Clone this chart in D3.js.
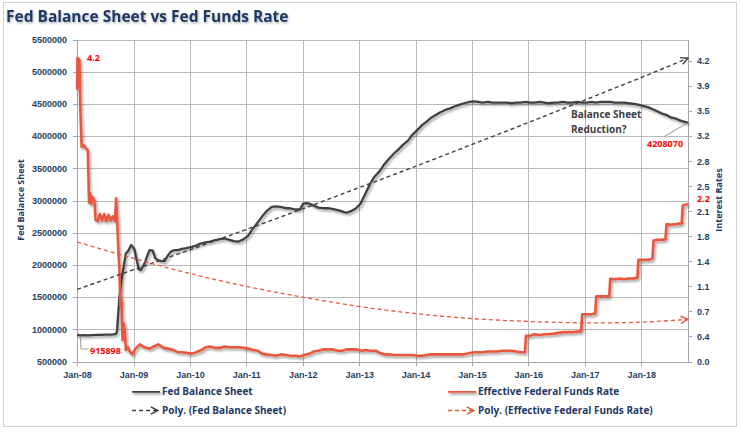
<!DOCTYPE html>
<html lang="en">
<head>
<meta charset="UTF-8">
<script src="https://d3js.org/d3.v7.min.js"></script>
<title>Fed Balance Sheet vs Fed Funds Rate</title>
<style>
  body { margin: 0; background: #fff; }
  svg { font-family: "Open Sans", sans-serif; }
  .grid line { stroke: #b9b9b9; stroke-width: 1px; shape-rendering: crispEdges; }
  .axis path, .axis line { stroke: #a6a6a6; shape-rendering: crispEdges; }
  .axis text { fill: #243f60; font-weight: bold; font-size: 9px; }
  .legend text { fill: #1f3864; font-weight: bold; font-size: 10px; }
</style>
</head>
<body>
<svg id="chart" width="743" height="433"></svg>
<script>
// ---- data ----
var bsSeries = [
  ["2008-01-02", 915898], ["2008-01-16", 905000], ["2008-02-13", 908000], ["2008-03-12", 906000],
  ["2008-04-09", 910000], ["2008-05-07", 912000], ["2008-06-04", 914000], ["2008-07-02", 916000],
  ["2008-07-30", 918000], ["2008-08-27", 922000], ["2008-09-10", 930000], ["2008-09-17", 990000],
  ["2008-09-24", 1250000], ["2008-10-01", 1480000], ["2008-10-15", 1770000], ["2008-10-29", 1960000],
  ["2008-11-12", 2180000], ["2008-11-26", 2210000], ["2008-12-17", 2310000], ["2009-01-07", 2240000],
  ["2009-01-21", 2080000], ["2009-02-04", 1930000], ["2009-02-18", 1920000], ["2009-03-04", 1980000],
  ["2009-03-18", 2050000], ["2009-04-01", 2150000], ["2009-04-15", 2230000], ["2009-05-06", 2220000],
  ["2009-05-20", 2110000], ["2009-06-10", 2070000], ["2009-07-01", 2060000], ["2009-07-22", 2060000],
  ["2009-08-12", 2150000], ["2009-09-02", 2210000], ["2009-09-23", 2230000], ["2009-10-14", 2230000],
  ["2009-11-11", 2250000], ["2009-12-09", 2260000], ["2010-01-13", 2280000], ["2010-02-10", 2300000],
  ["2010-03-10", 2330000], ["2010-04-14", 2350000], ["2010-05-12", 2360000], ["2010-06-09", 2380000],
  ["2010-07-14", 2400000], ["2010-08-11", 2410000], ["2010-09-15", 2390000], ["2010-10-13", 2370000],
  ["2010-11-10", 2360000], ["2010-12-15", 2400000], ["2011-01-12", 2450000], ["2011-02-09", 2550000],
  ["2011-03-16", 2660000], ["2011-04-13", 2750000], ["2011-05-11", 2830000], ["2011-06-15", 2900000],
  ["2011-07-13", 2910000], ["2011-08-10", 2900000], ["2011-09-14", 2880000], ["2011-10-12", 2880000],
  ["2011-11-09", 2860000], ["2011-12-14", 2860000], ["2012-01-04", 2950000], ["2012-01-25", 2960000],
  ["2012-02-15", 2950000], ["2012-03-14", 2920000], ["2012-04-11", 2890000], ["2012-05-16", 2880000],
  ["2012-06-13", 2880000], ["2012-07-11", 2870000], ["2012-08-15", 2850000], ["2012-09-12", 2830000],
  ["2012-10-10", 2810000], ["2012-11-14", 2840000], ["2012-12-12", 2880000], ["2013-01-09", 2950000],
  ["2013-02-13", 3120000], ["2013-03-13", 3260000], ["2013-04-10", 3370000], ["2013-05-15", 3460000],
  ["2013-06-12", 3560000], ["2013-07-10", 3640000], ["2013-08-14", 3730000], ["2013-09-11", 3790000],
  ["2013-10-09", 3860000], ["2013-11-13", 3930000], ["2013-12-11", 4020000], ["2014-01-15", 4100000],
  ["2014-02-12", 4170000], ["2014-03-12", 4220000], ["2014-04-09", 4280000], ["2014-05-14", 4330000],
  ["2014-06-11", 4370000], ["2014-07-16", 4410000], ["2014-08-13", 4430000], ["2014-09-10", 4460000],
  ["2014-10-15", 4490000], ["2014-11-12", 4510000], ["2014-12-17", 4530000], ["2015-01-14", 4540000],
  ["2015-02-11", 4530000], ["2015-03-11", 4520000], ["2015-04-15", 4530000], ["2015-05-13", 4520000],
  ["2015-06-10", 4520000], ["2015-07-15", 4520000], ["2015-08-12", 4520000], ["2015-09-16", 4510000],
  ["2015-10-14", 4520000], ["2015-11-11", 4520000], ["2015-12-16", 4530000], ["2016-01-13", 4520000],
  ["2016-02-10", 4520000], ["2016-03-16", 4530000], ["2016-04-13", 4520000], ["2016-05-11", 4510000],
  ["2016-06-15", 4520000], ["2016-07-13", 4520000], ["2016-08-10", 4530000], ["2016-09-14", 4520000],
  ["2016-10-12", 4520000], ["2016-11-16", 4530000], ["2016-12-14", 4520000], ["2017-01-11", 4520000],
  ["2017-02-15", 4530000], ["2017-03-15", 4520000], ["2017-04-12", 4530000], ["2017-05-10", 4530000],
  ["2017-06-14", 4530000], ["2017-07-12", 4520000], ["2017-08-16", 4520000], ["2017-09-13", 4520000],
  ["2017-10-11", 4510000], ["2017-11-15", 4500000], ["2017-12-13", 4490000], ["2018-01-10", 4470000],
  ["2018-02-14", 4450000], ["2018-03-14", 4420000], ["2018-04-11", 4390000], ["2018-05-16", 4350000],
  ["2018-06-13", 4330000], ["2018-07-11", 4290000], ["2018-08-15", 4270000], ["2018-09-12", 4240000],
  ["2018-10-10", 4220000], ["2018-10-31", 4208070]
];

var ffSeries = [
  ["2008-01-02", 3.80], ["2008-01-04", 4.24], ["2008-01-16", 4.22], ["2008-01-23", 3.50],
  ["2008-01-31", 3.00], ["2008-02-14", 3.02], ["2008-02-28", 2.98], ["2008-03-11", 2.95],
  ["2008-03-19", 2.22], ["2008-03-26", 2.35], ["2008-04-02", 2.20], ["2008-04-09", 2.30],
  ["2008-04-23", 2.25], ["2008-04-30", 1.98], ["2008-05-14", 1.96], ["2008-05-28", 2.06],
  ["2008-06-11", 1.97], ["2008-06-25", 2.06], ["2008-07-09", 1.96], ["2008-07-23", 2.05],
  ["2008-08-06", 1.97], ["2008-08-20", 2.03], ["2008-09-03", 1.96], ["2008-09-10", 2.28],
  ["2008-09-17", 1.97], ["2008-09-24", 1.60], ["2008-10-01", 1.32], ["2008-10-08", 0.77],
  ["2008-10-15", 0.86], ["2008-10-22", 0.30], ["2008-10-29", 0.53], ["2008-11-05", 0.44],
  ["2008-11-12", 0.16], ["2008-11-26", 0.20], ["2008-12-10", 0.13], ["2008-12-24", 0.10],
  ["2009-01-14", 0.18], ["2009-02-11", 0.24], ["2009-03-11", 0.20], ["2009-04-15", 0.18],
  ["2009-05-13", 0.21], ["2009-06-10", 0.24], ["2009-07-15", 0.19], ["2009-08-12", 0.18],
  ["2009-09-16", 0.16], ["2009-10-14", 0.13], ["2009-11-11", 0.13], ["2009-12-16", 0.12],
  ["2010-01-13", 0.11], ["2010-02-10", 0.13], ["2010-03-17", 0.16], ["2010-04-14", 0.20],
  ["2010-05-12", 0.21], ["2010-06-16", 0.19], ["2010-07-14", 0.19], ["2010-08-11", 0.21],
  ["2010-09-15", 0.20], ["2010-10-13", 0.20], ["2010-11-17", 0.20], ["2010-12-15", 0.19],
  ["2011-01-12", 0.18], ["2011-02-16", 0.16], ["2011-03-16", 0.15], ["2011-04-13", 0.11],
  ["2011-05-11", 0.10], ["2011-06-15", 0.09], ["2011-07-13", 0.08], ["2011-08-17", 0.10],
  ["2011-09-14", 0.09], ["2011-10-12", 0.08], ["2011-11-16", 0.08], ["2011-12-14", 0.07],
  ["2012-01-11", 0.09], ["2012-02-15", 0.11], ["2012-03-14", 0.14], ["2012-04-11", 0.15],
  ["2012-05-16", 0.17], ["2012-06-13", 0.17], ["2012-07-11", 0.17], ["2012-08-15", 0.15],
  ["2012-09-12", 0.15], ["2012-10-17", 0.17], ["2012-11-14", 0.17], ["2012-12-12", 0.17],
  ["2013-01-16", 0.15], ["2013-02-13", 0.16], ["2013-03-13", 0.15], ["2013-04-17", 0.15],
  ["2013-05-15", 0.12], ["2013-06-12", 0.10], ["2013-07-17", 0.10], ["2013-08-14", 0.09],
  ["2013-09-11", 0.09], ["2013-10-16", 0.09], ["2013-11-13", 0.09], ["2013-12-11", 0.09],
  ["2014-01-15", 0.08], ["2014-02-12", 0.08], ["2014-03-12", 0.09], ["2014-04-16", 0.10],
  ["2014-05-14", 0.10], ["2014-06-11", 0.10], ["2014-07-16", 0.10], ["2014-08-13", 0.10],
  ["2014-09-17", 0.10], ["2014-10-15", 0.10], ["2014-11-12", 0.10], ["2014-12-17", 0.12],
  ["2015-01-14", 0.13], ["2015-02-11", 0.13], ["2015-03-11", 0.13], ["2015-04-15", 0.14],
  ["2015-05-13", 0.14], ["2015-06-17", 0.14], ["2015-07-15", 0.15], ["2015-08-12", 0.15],
  ["2015-09-16", 0.15], ["2015-10-14", 0.14], ["2015-11-11", 0.13], ["2015-12-10", 0.13],
  ["2015-12-17", 0.36], ["2016-01-13", 0.36], ["2016-02-10", 0.38], ["2016-03-16", 0.37],
  ["2016-04-13", 0.38], ["2016-05-11", 0.38], ["2016-06-15", 0.39], ["2016-07-13", 0.40],
  ["2016-08-17", 0.41], ["2016-09-14", 0.41], ["2016-10-12", 0.41], ["2016-11-16", 0.42],
  ["2016-12-08", 0.42], ["2016-12-15", 0.66], ["2017-01-11", 0.66], ["2017-02-15", 0.66],
  ["2017-03-09", 0.67], ["2017-03-16", 0.91], ["2017-04-12", 0.91], ["2017-05-17", 0.91],
  ["2017-06-08", 0.91], ["2017-06-15", 1.16], ["2017-07-12", 1.15], ["2017-08-16", 1.16],
  ["2017-09-13", 1.15], ["2017-10-11", 1.16], ["2017-11-15", 1.16], ["2017-12-07", 1.17],
  ["2017-12-14", 1.42], ["2018-01-10", 1.42], ["2018-02-14", 1.42], ["2018-03-15", 1.44],
  ["2018-03-22", 1.69], ["2018-04-11", 1.70], ["2018-05-16", 1.70], ["2018-06-07", 1.71],
  ["2018-06-14", 1.92], ["2018-07-11", 1.91], ["2018-08-15", 1.92], ["2018-09-20", 1.93],
  ["2018-09-27", 2.18], ["2018-10-10", 2.19], ["2018-10-31", 2.20]
];

// Excel "Poly." trendlines as they appear in the picture, read at each January
var trendDates = ["2008-01-02", "2009-01-01", "2010-01-01", "2011-01-01", "2012-01-01", "2013-01-01",
                  "2014-01-01", "2015-01-01", "2016-01-01", "2017-01-01", "2018-01-01", "2018-10-31"];
var bsTrend = [1620000, 1925000, 2235000, 2550000, 2870000, 3200000,
               3530000, 3870000, 4210000, 4560000, 4910000, 5210000];
var ffTrend = [1.67, 1.44, 1.23, 1.05, 0.90, 0.77, 0.67, 0.60, 0.56, 0.54, 0.55, 0.59];

var bsTicks = [500000, 1000000, 1500000, 2000000, 2500000, 3000000,
               3500000, 4000000, 4500000, 5000000, 5500000];
var rateTicks = [0, 0.35, 0.7, 1.05, 1.4, 1.75, 2.1, 2.45, 2.8, 3.15, 3.5, 3.85, 4.2];
var rateLabels = ["0.0", "0.4", "0.7", "1.1", "1.4", "1.8", "2.1", "2.5", "2.8", "3.2", "3.5", "3.9", "4.2"];

var parse = d3.timeParse("%Y-%m-%d");
var bs = bsSeries.map(d => ({date: parse(d[0]), value: d[1]}));
var ff = ffSeries.map(d => ({date: parse(d[0]), value: d[1]}));
var bsPoly = trendDates.map((d, i) => ({date: parse(d), value: bsTrend[i]}));
var ffPoly = trendDates.map((d, i) => ({date: parse(d), value: ffTrend[i]}));

// ---- layout ----
var plot = {left: 77, right: 688, top: 39.5, bottom: 361.5};
var BLACK = "#404040", RED = "#e9573f";

var x = d3.scaleTime()
    .domain([new Date(2008, 0, 1), new Date(2018, 9, 31)])
    .range([plot.left, plot.right]);
var yL = d3.scaleLinear().domain([500000, 5500000]).range([plot.bottom, plot.top]);
var yR = d3.scaleLinear().domain([0, 4.5]).range([plot.bottom, plot.top]);

var svg = d3.select("#chart");
var defs = svg.append("defs");

var shadow = defs.append("filter").attr("id", "shadow").attr("filterUnits", "userSpaceOnUse")
    .attr("x", 0).attr("y", 0).attr("width", 743).attr("height", 433);
shadow.append("feDropShadow").attr("dx", 1.5).attr("dy", 2).attr("stdDeviation", 1.2)
    .attr("flood-color", "#000").attr("flood-opacity", 0.35);

var tshadow = defs.append("filter").attr("id", "tshadow");
tshadow.append("feDropShadow").attr("dx", 1).attr("dy", 1.5).attr("stdDeviation", 0.8)
    .attr("flood-color", "#000").attr("flood-opacity", 0.3);

function arrow(id, color) {
  defs.append("marker").attr("id", id)
    .attr("viewBox", "0 0 10 10").attr("refX", 9).attr("refY", 5)
    .attr("markerWidth", 9).attr("markerHeight", 9)
    .attr("markerUnits", "userSpaceOnUse").attr("orient", "auto")
    .append("path").attr("d", "M1,1 L9,5 L1,9")
    .attr("fill", "none").attr("stroke", color).attr("stroke-width", 1.6);
}
arrow("arrowBlack", BLACK);
arrow("arrowRed", RED);

// outer frame
svg.append("rect").attr("x", 3.5).attr("y", 2.5).attr("width", 733).attr("height", 424)
    .attr("fill", "#fff").attr("stroke", "#d0d0d0");

// title
svg.append("text").attr("x", 6).attr("y", 22)
    .attr("font-size", 15.5).attr("font-weight", "bold").attr("fill", "#1f3864")
    .attr("filter", "url(#tshadow)")
    .text("Fed Balance Sheet vs Fed Funds Rate");

// grid
var grid = svg.append("g").attr("class", "grid");
grid.selectAll("line.h").data(bsTicks.slice(1)).join("line").attr("class", "h")
    .attr("x1", plot.left).attr("x2", plot.right)
    .attr("y1", d => Math.round(yL(d)) + 0.5).attr("y2", d => Math.round(yL(d)) + 0.5);
grid.selectAll("line.v").data(x.ticks(d3.timeYear.every(1)).slice(1)).join("line").attr("class", "v")
    .attr("y1", plot.top).attr("y2", plot.bottom)
    .attr("x1", d => Math.round(x(d)) + 0.5).attr("x2", d => Math.round(x(d)) + 0.5);

// axes
svg.append("g").attr("class", "axis")
    .attr("transform", `translate(${plot.left},0)`)
    .call(d3.axisLeft(yL).tickValues(bsTicks).tickFormat(d3.format("d"))
        .tickSizeInner(4).tickSizeOuter(0).tickPadding(6));
svg.append("g").attr("class", "axis")
    .attr("transform", `translate(${plot.right},0)`)
    .call(d3.axisRight(yR).tickValues(rateTicks).tickFormat((d, i) => rateLabels[i])
        .tickSizeInner(4).tickSizeOuter(0).tickPadding(5));
svg.append("g").attr("class", "axis")
    .attr("transform", `translate(0,${plot.bottom})`)
    .call(d3.axisBottom(x).ticks(d3.timeYear.every(1)).tickFormat(d3.timeFormat("%b-%y"))
        .tickSizeInner(4).tickSizeOuter(0).tickPadding(6));

// axis titles
svg.append("text").attr("transform", "translate(24,200) rotate(-90)")
    .attr("text-anchor", "middle").attr("font-size", 9).attr("font-weight", "bold")
    .attr("fill", "#1f3864").text("Fed Balance Sheet");
svg.append("text").attr("transform", "translate(722,200) rotate(-90)")
    .attr("text-anchor", "middle").attr("font-size", 9).attr("font-weight", "bold")
    .attr("fill", "#1f3864").text("Interest Rates");

var lineL = d3.line().x(d => x(d.date)).y(d => yL(d.value));
var lineR = d3.line().x(d => x(d.date)).y(d => yR(d.value));
var smoothL = d3.line().x(d => x(d.date)).y(d => yL(d.value)).curve(d3.curveNatural);
var smoothR = d3.line().x(d => x(d.date)).y(d => yR(d.value)).curve(d3.curveNatural);

// series
svg.append("path").datum(bs).attr("d", lineL)
    .attr("fill", "none").attr("stroke", BLACK).attr("stroke-width", 2.3)
    .attr("stroke-linejoin", "round").attr("filter", "url(#shadow)");
svg.append("path").datum(ff).attr("d", lineR)
    .attr("fill", "none").attr("stroke", RED).attr("stroke-width", 2.6)
    .attr("stroke-linejoin", "round").attr("filter", "url(#shadow)");

// trendlines
svg.append("path").datum(bsPoly).attr("d", smoothL)
    .attr("fill", "none").attr("stroke", BLACK).attr("stroke-width", 1.4)
    .attr("stroke-dasharray", "4,3").attr("marker-end", "url(#arrowBlack)");
svg.append("path").datum(ffPoly).attr("d", smoothR)
    .attr("fill", "none").attr("stroke", RED).attr("stroke-width", 1.3)
    .attr("stroke-dasharray", "4,3").attr("marker-end", "url(#arrowRed)");

// annotations
var first = bs[0], last = bs[bs.length - 1], lastRate = ff[ff.length - 1];
var ann = svg.append("g").attr("font-weight", "bold");
ann.append("text").attr("x", 87).attr("y", 61).attr("font-size", 9).attr("fill", "#ff0000").text("4.2");
ann.append("path").attr("fill", "none").attr("stroke", "#7f7f7f").attr("stroke-width", 0.8)
    .attr("d", `M${x(first.date) + 3},${yL(first.value) + 1} L${x(first.date) + 4},349 L88,349`);
ann.append("text").attr("x", 90).attr("y", 353.5).attr("font-size", 9).attr("fill", "#ff0000")
    .text(d3.format("d")(first.value));
ann.append("path").attr("fill", "none").attr("stroke", "#7f7f7f").attr("stroke-width", 0.8)
    .attr("d", `M${x(last.date)},${yL(last.value)} L665,136`);
ann.append("text").attr("x", 647).attr("y", 147).attr("font-size", 9).attr("fill", "#ff0000")
    .text(d3.format("d")(last.value));
ann.append("text").attr("x", 697).attr("y", 201.5).attr("font-size", 9).attr("fill", "#ff0000")
    .text(d3.format(".1f")(lastRate.value));
ann.append("text").attr("font-size", 10).attr("fill", "#404040")
    .selectAll("tspan").data(["Balance Sheet", "Reduction?"]).join("tspan")
    .attr("x", 571).attr("y", (d, i) => 118 + i * 14.5).text(d => d);

// legend
var legendItems = [
  {label: "Fed Balance Sheet", color: BLACK, dashed: false, x: 132, y: 391.5},
  {label: "Effective Federal Funds Rate", color: RED, dashed: false, x: 448, y: 391.5},
  {label: "Poly. (Fed Balance Sheet)", color: BLACK, dashed: true, x: 132, y: 410.5},
  {label: "Poly. (Effective Federal Funds Rate)", color: RED, dashed: true, x: 448, y: 410.5}
];
var leg = svg.append("g").attr("class", "legend")
    .selectAll("g").data(legendItems).join("g")
    .attr("transform", d => `translate(${d.x},${d.y})`);
leg.append("line").attr("x1", 0).attr("x2", d => d.dashed ? 26 : 28).attr("y1", 0).attr("y2", 0)
    .attr("stroke", d => d.color)
    .attr("stroke-width", d => d.dashed ? 1.4 : 2.5)
    .attr("stroke-dasharray", d => d.dashed ? "4,3" : null)
    .attr("marker-end", d => d.dashed ? (d.color === RED ? "url(#arrowRed)" : "url(#arrowBlack)") : null)
    .attr("filter", d => d.dashed ? null : "url(#shadow)");
leg.append("text").attr("x", 30).attr("y", 3.5).text(d => d.label);
</script>
</body>
</html>
